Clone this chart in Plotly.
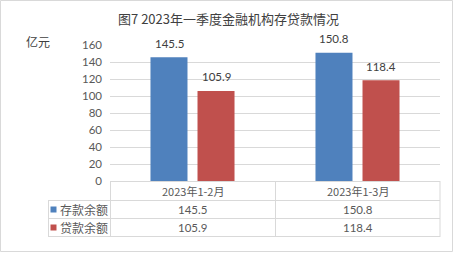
import plotly.graph_objects as go

categories = ["2023年1-2月", "2023年1-3月"]
series_names = ["存款余额", "贷款余额"]
deposits = [145.5, 150.8]
loans = [105.9, 118.4]
colors = ["#4F81BD", "#C0504D"]
title_text = "图7 2023年一季度金融机构存贷款情况"
unit_text = "亿元"

W, H = 456, 253
L, R, T, B = 110, 440, 45, 181  # plot area in px


def px(x):
    return (x - L) / (R - L)


def py(y):
    return (B - y) / (B - T)


NUM_FONT = "Lato, Noto Sans CJK SC, sans-serif"
CJK_FONT = "Noto Sans CJK SC, sans-serif"
TXT = "#595959"
GRID = "#D9D9D9"

fig = go.Figure()
values = [deposits, loans]
for name, vals, c in zip(series_names, values, colors):
    fig.add_trace(go.Bar(x=categories, y=vals, name=name, marker_color=c,
                         marker_line_width=0, showlegend=False))

annotations = []
# data labels
for i, vals in enumerate(values):
    for j, v in enumerate(vals):
        annotations.append(dict(x=categories[j], y=v, xref="x", yref="y",
                                text=f"{v:.1f}", showarrow=False,
                                xanchor="center", yanchor="middle",
                                xshift=(-1 if i == 0 else 1) * 23.5, yshift=14,
                                font=dict(family=NUM_FONT, size=11.5, color="#404040")))


def pann(x, y, text, font, xanchor="center"):
    annotations.append(dict(x=px(x), y=py(y), xref="paper", yref="paper", text=text,
                            showarrow=False, xanchor=xanchor, yanchor="middle", font=font))


# title & unit
pann(228, 18, title_text, dict(family=CJK_FONT, size=13, color="#404040"))
pann(38, 41, unit_text, dict(family=CJK_FONT, size=12, color="#404040"))

# data table text
col_centers = [192.5, 357.5]
row_centers = [191, 209.5, 227.5]
for j, cat in enumerate(categories):
    pann(col_centers[j], row_centers[0], cat, dict(family=CJK_FONT, size=11, color=TXT))
for i, (name, vals) in enumerate(zip(series_names, values)):
    pann(58, row_centers[i + 1], name, dict(family=CJK_FONT, size=12, color=TXT), xanchor="left")
    for j, v in enumerate(vals):
        pann(col_centers[j], row_centers[i + 1], f"{v:.1f}",
             dict(family=NUM_FONT, size=11.5, color=TXT))

shapes = []


def hline(x0, x1, y, color=GRID):
    shapes.append(dict(type="line", xref="paper", yref="paper", x0=px(x0), x1=px(x1),
                       y0=py(y), y1=py(y), line=dict(color=color, width=1)))


def vline(x, y0, y1, color=GRID):
    shapes.append(dict(type="line", xref="paper", yref="paper", x0=px(x), x1=px(x),
                       y0=py(y0), y1=py(y1), line=dict(color=color, width=1)))


hline(110, 440, 181.5)
hline(48, 440, 200.5)
hline(48, 440, 218.5)
hline(48, 440, 236.5)
vline(110.5, 181, 237)
vline(275.5, 181, 237)
vline(440, 181, 237)
vline(48.5, 200, 237)
# legend keys
for i, c in enumerate(colors):
    yc = row_centers[i + 1]
    shapes.append(dict(type="rect", xref="paper", yref="paper", x0=px(50.5), x1=px(56.5),
                       y0=py(yc - 3), y1=py(yc + 3), fillcolor=c, line=dict(width=0)))
# outer border
shapes.append(dict(type="rect", xref="paper", yref="paper", x0=px(0.5), x1=px(452.5),
                   y0=py(0.5), y1=py(251.5), line=dict(color=GRID, width=1)))

fig.update_layout(
    width=W, height=H,
    margin=dict(l=L, r=W - R, t=T, b=H - B, pad=0),
    paper_bgcolor="white", plot_bgcolor="white",
    barmode="group", bargap=0.43, bargroupgap=0.213,
    annotations=annotations, shapes=shapes,
    xaxis=dict(showticklabels=False, showgrid=False, showline=False, zeroline=False,
               ticks=""),
    yaxis=dict(range=[0, 160], dtick=20, showgrid=True, gridcolor=GRID, gridwidth=1,
               zeroline=False, showline=False, ticks="", ticklabelstandoff=7,
               tickfont=dict(family=NUM_FONT, size=11.5, color=TXT)),
)

fig.write_html("out.html")
